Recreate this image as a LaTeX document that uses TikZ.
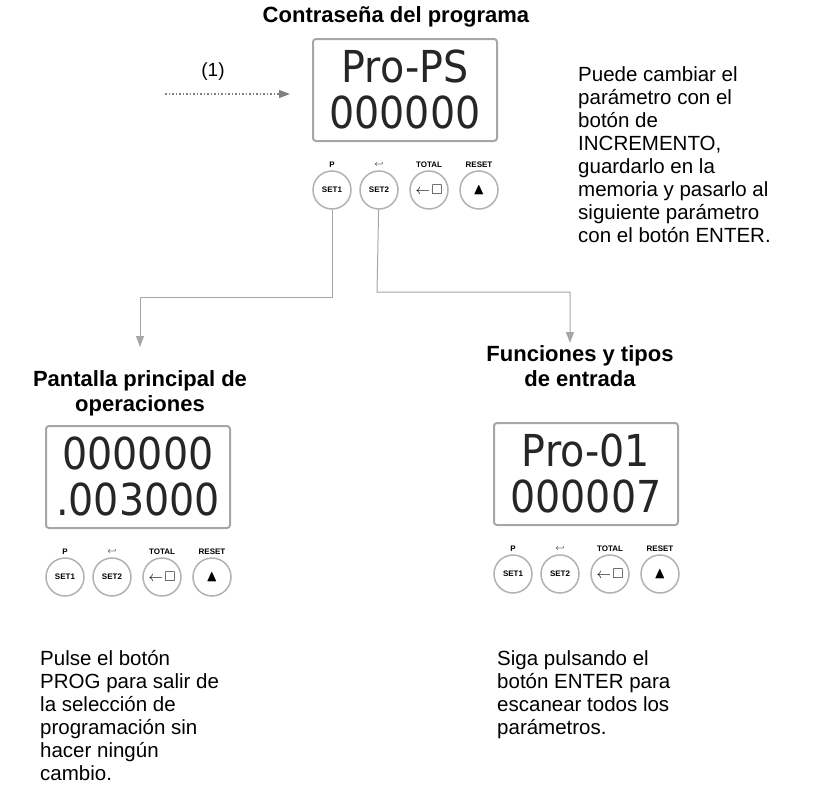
\documentclass[tikz,border=0pt]{standalone}
\usepackage{fontspec}
\setmainfont{Liberation Sans}
\setsansfont{DejaVu Sans}
\usepackage{amssymb}
\usetikzlibrary{arrows.meta}
\usetikzlibrary{positioning}

\tikzset{
  lcd/.style={draw=gray!70, line width=2pt, rounded corners=3pt, minimum width=184pt, minimum height=102pt, anchor=north west},
  digits/.style={font=\fontsize{44}{44}\sffamily, text=black!85, xscale=0.9},
  btn/.style={draw=gray!60, line width=1.5pt, circle, minimum size=38pt, inner sep=0pt, font=\fontsize{8}{8}\selectfont\bfseries},
  btnlab/.style={font=\fontsize{8}{8}\selectfont\bfseries},
  title/.style={font=\fontsize{22}{25}\selectfont\bfseries, align=center},
  note/.style={font=\fontsize{20.5}{23}\selectfont, align=left, anchor=north west, inner sep=0pt},
  link/.style={draw=gray!70, line width=1pt},
  tip/.style={-{Triangle[length=11pt,width=8pt]}},
}

% one counter panel: name, x, y of upper left corner, two display rows
\newcommand{\panel}[5]{
  \node[lcd] (#1) at (#2,#3) {};
  \node[digits] at ([yshift=-28pt]#1.north) {#4};
  \node[digits] at ([yshift=-74pt]#1.north) {#5};
  \node[btn] (#1s1) at ([xshift=20pt,yshift=-48pt]#1.south west) {SET1};
  \node[btn] (#1s2) at ([xshift=67pt,yshift=-48pt]#1.south west) {SET2};
  \node[btn] (#1tot) at ([xshift=117pt,yshift=-48pt]#1.south west) {\fontsize{14}{14}\selectfont$\leftarrow\!\Box$};
  \node[btn] (#1res) at ([xshift=167pt,yshift=-48pt]#1.south west) {\fontsize{16}{16}\selectfont$\blacktriangle$};
  \node[btnlab] at ([yshift=6pt]#1s1.north) {P};
  \node[btnlab] at ([yshift=6pt]#1s2.north) {$\hookleftarrow$};
  \node[btnlab] at ([yshift=6pt]#1tot.north) {TOTAL};
  \node[btnlab] at ([yshift=6pt]#1res.north) {RESET};
}

\begin{document}
\begin{tikzpicture}[x=1pt,y=-1pt]
\useasboundingbox (0,0) rectangle (820,798);

\node[title] (tpw) at (396,17) {Contraseña del programa};
\panel{pw}{312}{38}{Pro-PS}{000000}

\node[font=\fontsize{19}{19}\selectfont] (one) at (213,72) {(1)};
\coordinate (start) at (165,94);
\draw[dotted, line width=1.5pt, gray, -{Triangle[length=11pt,width=8pt]}] (start) -- ([xshift=-22pt]pw.west |- start);

\node[note] (npw) at (578,66) {Puede cambiar el\\parámetro con el\\botón de\\INCREMENTO,\\guardarlo en la\\memoria y pasarlo al\\siguiente parámetro\\con el botón ENTER.};

\node[title] (tmain) at (140,393) {Pantalla principal de\\operaciones};
\panel{main}{45}{425}{000000}{.003000}

\node[title] (tfun) at (580,366) {Funciones y tipos\\de entrada};
\panel{fun}{493}{422}{Pro-01}{000007}

\coordinate (ka) at (332,297);
\coordinate (kb) at (377,292);
\coordinate (ea) at (140,347);
\coordinate (eb) at (570,343);
\draw[link, tip] (pws1) -- (ka) -- (ka -| ea) -- (ea);
\draw[link, tip] (pws2) -- (kb) -- (kb -| eb) -- (eb);

\node[note] (nmain) at (40,650) {Pulse el botón\\PROG para salir de\\la selección de\\programación sin\\hacer ningún\\cambio.};
\node[note] (nfun) at (497,650) {Siga pulsando el\\botón ENTER para\\escanear todos los\\parámetros.};
\end{tikzpicture}
\end{document}
